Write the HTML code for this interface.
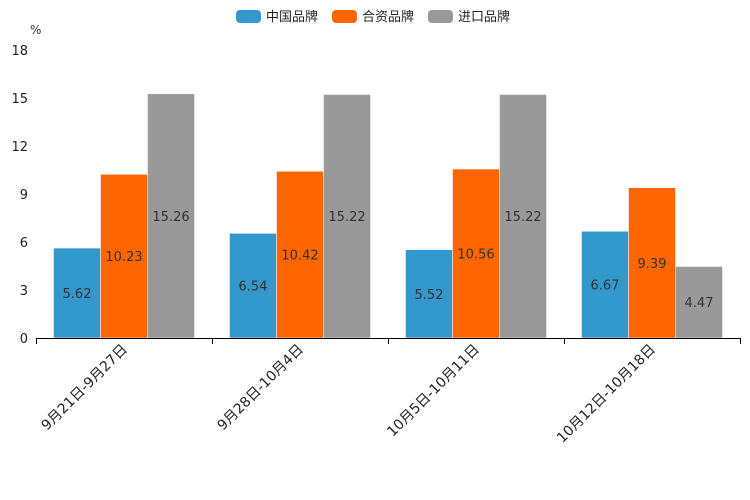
<!DOCTYPE html>
<html><head><meta charset="utf-8"><style>
body{margin:0;background:#fff;}
svg{display:block;font-family:"DejaVu Sans","Liberation Sans","Noto Sans CJK SC",sans-serif;}
</style></head><body>
<svg id="chart" width="750" height="500">
<g id="legend"></g>
<text x="30" y="34" font-size="12" fill="#333">%</text>
<g id="yaxis"></g>
<g id="bars"></g>
<g id="xaxis"></g>
</svg>
<script>
const categories = ["9月21日-9月27日","9月28日-10月4日","10月5日-10月11日","10月12日-10月18日"];
const seriesNames = ["中国品牌","合资品牌","进口品牌"];
const seriesColors = ["#3398CC","#FF6600","#999999"];
const chinaBrand = [5.62,6.54,5.52,6.67];
const jointBrand = [10.23,10.42,10.56,9.39];
const importBrand = [15.26,15.22,15.22,4.47];
const yTicks = [0,3,6,9,12,15,18];

const NS="http://www.w3.org/2000/svg";
const x0=36,x1=740,y0=338,y1=50,yMax=18;
const series=[chinaBrand,jointBrand,importBrand];
const catW=(x1-x0)/categories.length;
const barW=47;
const yScale=v=>y0-(v/yMax)*(y0-y1);
const xCat=i=>x0+i*catW;
function mk(tag,attrs,parent){const e=document.createElementNS(NS,tag);for(const k in attrs)e.setAttribute(k,attrs[k]);parent.appendChild(e);return e;}

const yaxis=document.getElementById('yaxis');
yTicks.forEach(t=>{
  const tx=mk('text',{x:28,y:yScale(t)+5,'text-anchor':'end','font-size':13,fill:'#222'},yaxis);
  tx.textContent=t;
  
  
});

const bars=document.getElementById('bars');
categories.forEach((c,i)=>{
  const start=xCat(i)+(catW-barW*3)/2;
  series.forEach((s,j)=>{
    const v=s[i];
    const r=mk('rect',{x:start+j*barW,y:yScale(v),width:barW,height:y0-yScale(v),fill:seriesColors[j],stroke:'#fff','stroke-width':0.5},bars);
    
    
    const t=mk('text',{x:start+j*barW+barW/2,y:(yScale(v)+y0)/2+5,'text-anchor':'middle','font-size':13,fill:'#333'},bars);
    t.textContent=v.toFixed(2);
    
    
  });
});

const xaxis=document.getElementById('xaxis');
const ax=mk('line',{x1:x0,y1:y0+0.5,x2:x1,y2:y0+0.5,stroke:'#000','stroke-width':1},xaxis);


for(let i=0;i<=categories.length;i++){
  const x=Math.round(xCat(i))+0.5;
  const tk=mk('line',{x1:x,y1:y0,x2:x,y2:y0+6,stroke:'#000'},xaxis);
  
  
}
categories.forEach((c,i)=>{
  const cx=xCat(i)+catW/2+4, cy=y0+12;
  const t=mk('text',{x:cx,y:cy,'text-anchor':'end','font-size':14,fill:'#222',transform:`rotate(-45 ${cx} ${cy})`},xaxis);
  t.textContent=c;
  
  
});

const legend=document.getElementById('legend');
const lx=[236,332,428];
seriesNames.forEach((n,j)=>{
  const g=mk('g',{},legend);
  
  
  mk('rect',{x:lx[j],y:10,width:25,height:13,rx:4,fill:seriesColors[j]},g);
  const t=mk('text',{x:lx[j]+30,y:21,'font-size':13,fill:'#222'},g);
  t.textContent=n;
});
</script>
</body></html>
